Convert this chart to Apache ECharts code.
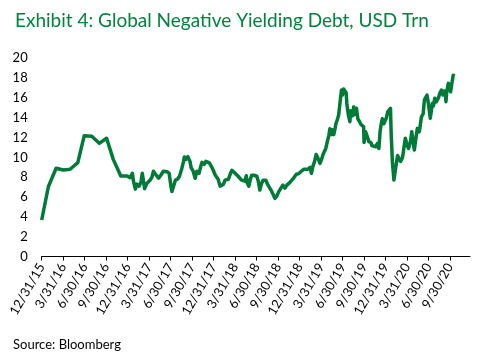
<!DOCTYPE html>
<html>
<head>
<meta charset="utf-8">
<script src="https://cdn.jsdelivr.net/npm/echarts@6/dist/echarts.min.js"></script>
<style>
html,body{margin:0;padding:0;background:#fff;}
#chart{width:487px;height:355px;}
</style>
</head>
<body>
<div id="chart"></div>
<script>
// Quarter-end tick labels (positions 0..19 in quarters since 12/31/15)
const tickLabels = ['12/31/15','3/31/16','6/30/16','9/30/16','12/31/16','3/31/17','6/30/17','9/30/17','12/31/17','3/31/18','6/30/18','9/30/18','12/31/18','3/31/19','6/30/19','9/30/19','12/31/19','3/31/20','6/30/20','9/30/20'];
const yTicks = [0,2,4,6,8,10,12,14,16,18,20];

// Observation position, measured in quarters since 12/31/15
const obsQuarter = [
0.00,0.31,0.67,1.01,1.32,1.68,1.98,2.33,2.68,3.02,3.33,3.68,3.98,
4.11,4.22,4.27,4.36,4.43,4.53,4.62,4.68,4.79,4.90,5.04,5.13,5.20,5.30,5.37,5.44,5.54,5.66,5.74,5.83,5.93,6.02,6.06,6.15,6.22,6.32,6.41,6.51,6.60,6.64,6.71,6.80,6.90,6.95,7.05,7.14,7.22,7.32,7.39,7.46,7.56,7.64,7.73,7.80,7.84,7.92,8.00,8.08,8.11,8.21,8.30,8.39,8.46,8.53,8.60,8.69,8.77,8.85,8.92,9.00,9.06,9.14,9.22,9.30,9.36,9.45,9.52,9.57,9.64,9.71,9.77,9.80,9.88,9.95,10.01,10.08,10.15,10.22,10.30,10.37,10.43,10.48,10.53,10.60,10.67,10.76,10.85,10.94,11.02,11.13,11.22,11.32,11.41,11.50,11.54,11.62,11.68,11.76,11.85,11.95,12.02,12.08,12.19,12.28,12.37,12.49,12.55,12.62,12.70,12.77,12.84,12.88,12.95,13.02,13.07,13.11,13.16,13.22,13.27,13.32,13.36,13.41,13.44,13.48,13.53,13.59,13.65,13.69,13.77,13.82,13.88,13.95,14.00,14.05,14.11,14.17,14.20,14.27,14.34,14.38,14.46,14.52,14.55,14.61,14.65,14.71,14.79,14.86,14.92,14.98,15.00,15.07,15.12,15.18,15.22,15.27,15.32,15.36,15.43,15.55,15.62,15.69,15.75,15.80,15.85,15.92,15.97,16.04,16.10,16.18,16.23,16.26,16.32,16.39,16.49,16.56,16.61,16.70,16.73,16.79,16.84,16.92,17.01,17.07,17.16,17.22,17.29,17.34,17.41,17.48,17.57,17.60,17.67,17.75,17.81,17.87,17.93,17.99,18.02,18.08,18.14,18.18,18.23,18.29,18.36,18.46,18.53,18.60,18.67,18.74,18.79,18.81,18.85,18.92,18.98,19.03,19.08,19.15,19.20
];
// Global negative yielding debt, USD trillion
const negYieldDebt = [
3.68,7.04,8.90,8.73,8.80,9.47,12.19,12.13,11.42,11.93,9.80,8.12,8.12,
7.95,8.40,7.60,6.80,7.30,7.10,7.50,8.40,6.85,7.40,7.70,8.00,8.60,8.30,8.50,7.90,8.20,8.60,8.50,8.55,8.40,7.00,6.55,7.20,7.70,7.80,8.10,8.80,9.60,10.05,9.80,10.07,9.60,9.00,8.60,7.90,8.60,8.40,9.00,9.50,9.30,9.60,9.40,9.45,9.30,9.00,8.90,8.20,8.40,7.80,7.10,6.90,7.30,7.70,7.90,7.80,8.30,8.70,8.80,8.40,8.20,8.10,7.90,7.70,7.80,7.60,8.15,7.40,7.10,7.80,8.20,8.22,8.20,8.15,8.10,7.60,6.70,7.30,7.70,7.90,7.70,7.50,7.20,7.00,6.70,6.30,5.87,6.10,6.50,6.90,7.20,6.90,7.20,7.30,7.45,7.60,7.80,8.00,8.30,8.35,8.45,8.60,8.80,9.00,8.80,9.00,8.40,9.10,9.60,10.30,10.00,9.80,9.40,9.80,9.90,10.40,10.50,10.90,11.40,11.60,12.20,12.90,12.70,12.30,12.80,12.30,12.90,13.40,13.90,14.30,15.50,16.80,16.30,16.90,17.10,16.50,15.40,14.30,13.60,14.70,14.20,15.10,14.30,14.70,14.95,13.90,13.60,13.30,13.40,13.10,11.50,12.60,12.40,11.90,11.60,11.50,11.50,11.20,11.30,11.08,11.40,10.90,12.70,13.40,13.90,13.40,13.30,14.00,14.60,14.70,14.95,12.50,9.50,7.72,9.20,10.20,10.07,9.60,9.40,10.00,10.75,11.93,11.20,10.90,11.60,12.60,11.50,10.75,11.90,12.93,12.60,13.00,14.10,14.40,15.80,15.90,16.30,15.50,15.00,13.94,14.80,15.46,15.20,15.96,15.60,16.00,16.50,16.80,16.30,16.70,16.40,15.62,16.60,17.48,17.00,16.63,17.40,18.30,18.20,18.14
];

const seriesData = obsQuarter.map((q, i) => [q, negYieldDebt[i]]);
const quarterIdx = tickLabels.map((_, i) => i);

const chart = echarts.init(document.getElementById('chart'), null, {renderer: 'canvas'});
chart.setOption({
  animation: false,
  backgroundColor: '#ffffff',
  title: [{
    text: 'Exhibit 4: Global Negative Yielding Debt, USD Trn',
    left: 10, top: 6,
    textStyle: {fontFamily: 'Lato', fontSize: 19, fontWeight: 'normal', color: '#00843D'}
  }, {
    text: 'Source: Bloomberg',
    left: 8, top: 333,
    textStyle: {fontFamily: 'Lato', fontSize: 13, fontWeight: 'normal', color: '#000000'}
  }],
  grid: {left: 41.7, right: 17, top: 58.3, bottom: 98.5, containLabel: false},
  xAxis: {
    type: 'value', min: 0, max: 19.93,
    splitLine: {show: false},
    axisLine: {show: true, lineStyle: {color: '#000', width: 1}},
    axisTick: {show: true, length: 4, lineStyle: {color: '#000'}, customValues: quarterIdx},
    axisLabel: {
      customValues: quarterIdx,
      rotate: 60, margin: 8,
      fontFamily: 'Lato', fontSize: 13, color: '#000',
      formatter: v => tickLabels[Math.round(v)] || ''
    }
  },
  yAxis: {
    type: 'value', min: 0, max: 20, interval: 2,
    splitLine: {show: false},
    axisLine: {show: false},
    axisTick: {show: false},
    axisLabel: {fontFamily: 'Lato', fontSize: 13, color: '#000', margin: 14}
  },
  series: [{
    type: 'line',
    data: seriesData,
    showSymbol: false,
    symbol: 'none',
    lineStyle: {color: '#007A37', width: 3.5, join: 'round'}
  }]
});
</script>
</body>
</html>
